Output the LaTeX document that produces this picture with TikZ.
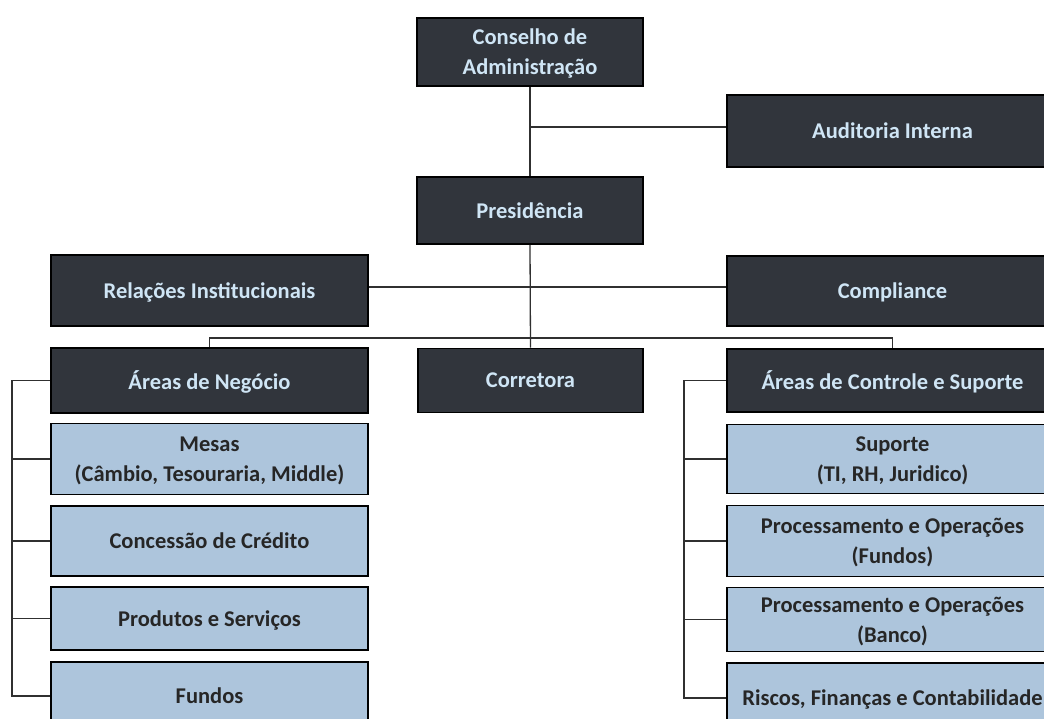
\documentclass[tikz,border=0pt]{standalone}
\usepackage{fontspec}
\setmainfont{Carlito}
\usetikzlibrary{calc}
\definecolor{darkfill}{HTML}{31353C}
\definecolor{lighttext}{HTML}{CFE5F5}
\definecolor{lightfill}{HTML}{ADC5DC}
\definecolor{darktext}{HTML}{262626}
\definecolor{linec}{HTML}{303030}
\begin{document}
\begin{tikzpicture}[x=1pt,y=-1pt,
  base/.style={draw=black, line width=1.6pt, rectangle, inner sep=0pt, align=center,
    text depth=0pt, font=\fontsize{22.5}{30}\selectfont\bfseries},
  dark/.style={base, fill=darkfill, text=lighttext},
  light/.style={base, fill=lightfill, text=darktext},
  conn/.style={draw=linec, line width=1.3pt},
  lw/.style={minimum width=317pt},
  cw/.style={minimum width=226pt},
  rw/.style={minimum width=331pt}]
\useasboundingbox (0,0) rectangle (1044,718);
% top
\node[dark,cw,minimum height=68pt] (cons) at (530,52) {Conselho de\\Administração};
\node[dark,rw,minimum height=72pt] (aud) at (892.5,131) {Auditoria Interna};
\node[dark,cw,minimum height=67pt] (pres) at (530,210.5) {Presidência};
\node[dark,lw,minimum height=71pt] (rel) at (209.5,290.5) {Relações Institucionais};
\node[dark,rw,minimum height=70pt] (comp) at (892.5,291) {Compliance};
\node[dark,lw,minimum height=65pt] (neg) at (209.5,380.5) {Áreas de Negócio};
\node[dark,minimum width=225pt,minimum height=64pt] (corr) at (530.5,380.5) {Corretora};
\node[dark,rw,minimum height=63pt] (ctrl) at (892.5,380.5) {Áreas de Controle e Suporte};
% left column
\node[light,lw,minimum height=71pt] (mesas) at (209.5,459) {Mesas\\(Câmbio, Tesouraria, Middle)};
\node[light,lw,minimum height=70pt] (conc) at (209.5,541) {Concessão de Crédito};
\node[light,lw,minimum height=63pt] (prod) at (209.5,618.5) {Produtos e Serviços};
\node[light,lw,minimum height=68pt] (fund) at (209.5,696) {Fundos};
% right column
\node[light,rw,minimum height=69pt] (sup) at (892.5,459) {Suporte\\(TI, RH, Juridico)};
\node[light,rw,minimum height=71pt] (pf) at (892.5,541) {Processamento e Operações\\(Fundos)};
\node[light,rw,minimum height=64pt] (pb) at (892.5,619.5) {Processamento e Operações\\(Banco)};
\node[light,rw,minimum height=70pt] (ris) at (892.5,698) {Riscos, Finanças e Contabilidade};
% junction coordinates
\coordinate (j1) at (530,127);
\coordinate (j2) at (530,287);
\coordinate (j3) at (530,338);
\coordinate (lb) at (12,0);
\coordinate (rb) at (684,0);
% connectors
\draw[conn] (cons.south) -- (pres.north);
\draw[conn] (j1) -- (j1 -| aud.west);
\draw[conn] (pres.south) -- (corr.north);
\draw[conn] (j2 -| rel.east) -- (j2 -| comp.west);
\draw[conn] (neg.north) -- (neg.north |- j3) -- (ctrl.north |- j3) -- (ctrl.north);
\draw[conn] (neg.west) -- (neg.west -| lb) -- (fund.west -| lb) -- (fund.west);
\foreach \c in {mesas,conc,prod} \draw[conn] (\c.west) -- (\c.west -| lb);
\draw[conn] (ctrl.west) -- (ctrl.west -| rb) -- (ris.west -| rb) -- (ris.west);
\foreach \c in {sup,pf,pb} \draw[conn] (\c.west) -- (\c.west -| rb);
\end{tikzpicture}
\end{document}
